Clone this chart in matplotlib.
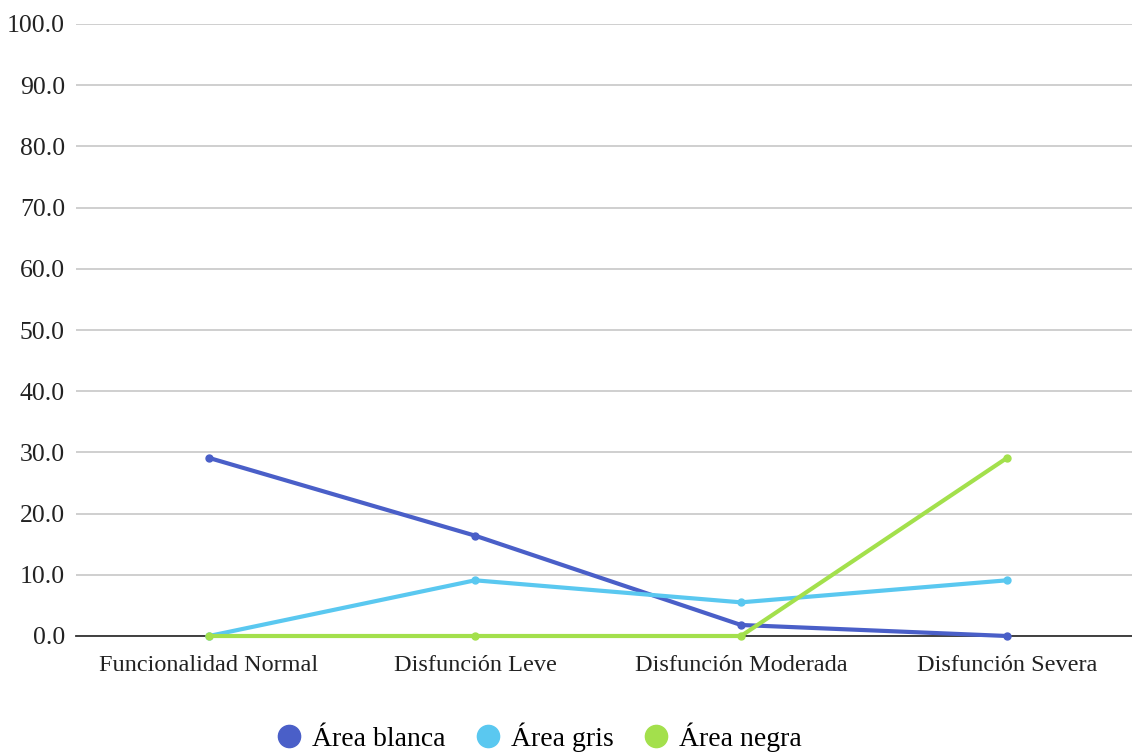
import matplotlib.pyplot as plt
from matplotlib.lines import Line2D

plt.rcParams['font.family'] = ['Liberation Serif', 'DejaVu Serif']

categorias = ['Funcionalidad Normal', 'Disfunción Leve', 'Disfunción Moderada', 'Disfunción Severa']
area_blanca = [29.1, 16.4, 1.8, 0.0]
area_gris = [0.0, 9.1, 5.5, 9.1]
area_negra = [0.0, 0.0, 0.0, 29.1]

series = [
    ('Área blanca', area_blanca, '#4a5fc8'),
    ('Área gris', area_gris, '#5ac8f0'),
    ('Área negra', area_negra, '#a3e04c'),
]

fig = plt.figure(figsize=(11.32, 7.54), dpi=100)
ax = fig.add_axes([76 / 1132, 1 - 636 / 754, 1 - 76 / 1132, (636 - 24) / 754])

x = list(range(len(categorias)))
for nombre, valores, color in series:
    ax.plot(x, valores, color=color, lw=3, marker='o', ms=5, label=nombre,
            solid_capstyle='round', clip_on=False, zorder=3)

ax.set_ylim(0, 100)
ax.set_xlim(-0.5, -0.5 + 1056 / 266)
ax.set_yticks(range(0, 101, 10))
ax.set_yticklabels([f'{v:.1f}' for v in range(0, 101, 10)], fontsize=18.5, color='#222222')
ax.set_xticks(x)
ax.set_xticklabels(categorias, fontsize=17.5, color='#222222')
ax.tick_params(axis='both', length=0)
ax.tick_params(axis='y', pad=8)
ax.tick_params(axis='x', pad=14)

ax.grid(axis='y', color='#cccccc', lw=1.3)
ax.set_axisbelow(True)
for s in ['top', 'right', 'left']:
    ax.spines[s].set_visible(False)
ax.spines['bottom'].set_color('#333333')
ax.spines['bottom'].set_linewidth(1.3)

handles = [Line2D([], [], ls='none', marker='o', ms=16, color=c) for _, _, c in series]
fig.legend(handles, [n for n, _, _ in series], loc='center', bbox_to_anchor=(537 / 1132, 1 - 737 / 754),
           ncol=3, frameon=False, fontsize=20, handletextpad=0.25, columnspacing=0.9,
           handlelength=1.2)

fig.savefig('out.png', dpi=100)
